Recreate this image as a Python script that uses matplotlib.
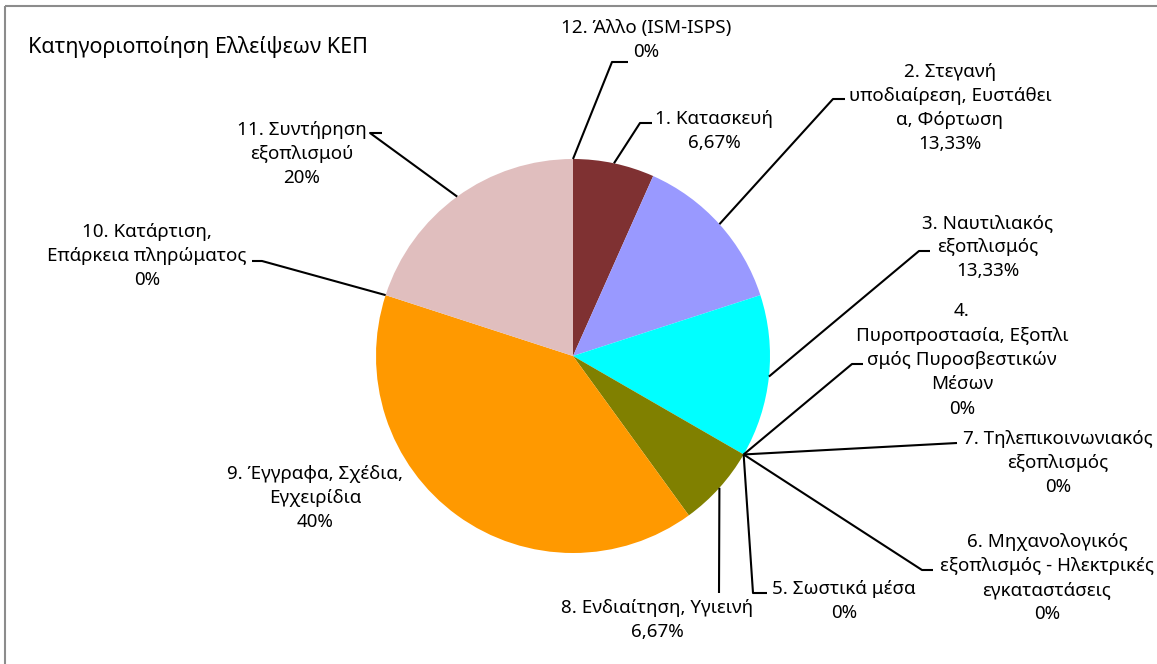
import matplotlib
matplotlib.use("Agg")
import matplotlib.pyplot as plt
import numpy as np
from matplotlib.patches import Rectangle

plt.rcParams["font.family"] = ["Noto Sans", "DejaVu Sans"]

CATEGORIES = [
    "1. Κατασκευή",
    "2. Στεγανή\nυποδιαίρεση, Ευστάθει\nα, Φόρτωση",
    "3. Ναυτιλιακός\nεξοπλισμός",
    "4.\nΠυροπροστασία, Εξοπλι\nσμός Πυροσβεστικών\nΜέσων",
    "5. Σωστικά μέσα",
    "6. Μηχανολογικός\nεξοπλισμός - Ηλεκτρικές\nεγκαταστάσεις",
    "7. Τηλεπικοινωνιακός\nεξοπλισμός",
    "8. Ενδιαίτηση, Υγιεινή",
    "9. Έγγραφα, Σχέδια,\nΕγχειρίδια",
    "10. Κατάρτιση,\nΕπάρκεια πληρώματος",
    "11. Συντήρηση\nεξοπλισμού",
    "12. Άλλο (ISM-ISPS)",
]
SHARES = [6.67, 13.33, 13.33, 0, 0, 0, 0, 6.67, 40, 0, 20, 0]
PCT_LABELS = ["6,67%", "13,33%", "13,33%", "0%", "0%", "0%", "0%",
              "6,67%", "40%", "0%", "20%", "0%"]
COLORS = ["#7f3132", "#9999ff", "#00ffff", "#333399", "#ff8080", "#0066cc",
          "#ccccff", "#808000", "#ff9900", "#993366", "#e0bebe", "#000080"]

# layout (pixel coords, y down): label centre and leader elbow points
LABEL_POS = [(714, 131), (950, 108), (988, 247), (962, 360), (844, 601),
             (1047, 578), (1058, 463), (657, 620), (315, 498), (147, 256),
             (302, 154), (646, 40)]
ELBOWS = [
    [(640, 123), (652, 123)],
    [(833, 99), (845, 99)],
    [(919, 251), (930, 251)],
    [(852, 364), (863, 364)],
    [(753, 593), (767, 593)],
    [(922, 570), (933, 570)],
    [(957, 443)],
    [(719, 593)],
    None,
    [(262, 261), (252, 261)],
    [(370, 133), (382, 133)],
    [(612, 62), (628, 62)],
]

W, H = 1157, 664
CX, CY, R = 573, 356, 197

fig = plt.figure(figsize=(W / 100, H / 100), dpi=100)
ax = fig.add_axes([0, 0, 1, 1])

# y axis is inverted below, so counterclock=True runs clockwise on screen
wedges, _ = ax.pie(SHARES, colors=COLORS, startangle=-90, counterclock=True,
                   center=(CX, CY), radius=R, frame=True,
                   wedgeprops=dict(linewidth=0))
ax.set_xlim(0, W)
ax.set_ylim(H, 0)
ax.set_aspect("equal")
ax.axis("off")

ax.add_patch(Rectangle((5, 6), W + 50, H + 50, fill=False, ec="#8c8c8c", lw=1.5))

ax.text(28, 47, "Κατηγοριοποίηση Ελλείψεων ΚΕΠ", fontsize=15.5, va="center", ha="left")

for w, name, pct, pos, elbow in zip(wedges, CATEGORIES, PCT_LABELS, LABEL_POS, ELBOWS):
    mid = np.deg2rad((w.theta1 + w.theta2) / 2)
    x0, y0 = CX + R * np.cos(mid), CY + R * np.sin(mid)
    if elbow:
        xs = [x0] + [p[0] for p in elbow]
        ys = [y0] + [p[1] for p in elbow]
        ax.plot(xs, ys, color="black", lw=1.5, solid_capstyle="butt")
    ax.text(pos[0], pos[1], name + "\n" + pct, fontsize=13.5, ha="center", va="center",
            linespacing=1.45)

fig.savefig("out.png", dpi=100)
